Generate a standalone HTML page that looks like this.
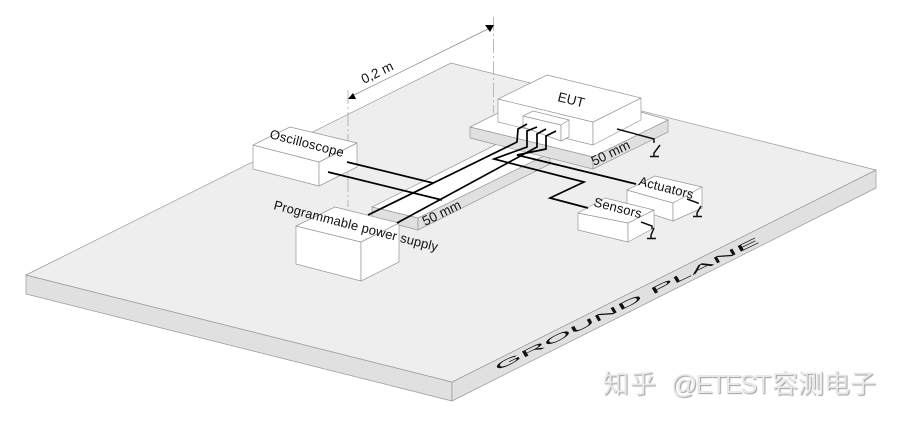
<!DOCTYPE html>
<html><head><meta charset="utf-8">
<style>
html,body{margin:0;padding:0;background:#fff;width:898px;height:421px;overflow:hidden}
#w{position:relative;width:898px;height:421px}
svg{position:absolute;left:0;top:0;filter:blur(.25px)}
.t{font-family:"Liberation Sans",sans-serif;fill:#111}
.b polygon{fill:#fff;stroke:#999;stroke-width:.7;stroke-linejoin:round}
.wire{fill:none;stroke:#000;stroke-width:1.7;stroke-linejoin:miter}
.gnd{fill:none;stroke:#111;stroke-width:1.5}
.wm{position:absolute;font-family:"Liberation Sans","Noto Sans CJK SC",sans-serif;font-size:26px;line-height:30px;color:#e8e8e8;text-shadow:1px 1px 1px #a0a0a0;white-space:nowrap;top:369px}
</style></head><body><div id="w">
<svg width="898" height="421" viewBox="0 0 898 421">
<!-- ground plane -->
<polygon points="26,275 452,382 452,401 26,294" fill="#e0e0e0" stroke="#999" stroke-width=".7"/>
<polygon points="452,382 876,170 876,188 452,401" fill="#e0e0e0" stroke="#999" stroke-width=".7"/>
<polygon points="26,275 451,63 876,170 452,382" fill="#eeeeee" stroke="#999" stroke-width=".7"/>

<!-- dimension -->
<line x1="348" y1="90" x2="348" y2="207" stroke="#aaa" stroke-width=".8" stroke-dasharray="14 3 2 3"/>
<line x1="493.500" y1="17" x2="493.500" y2="113" stroke="#aaa" stroke-width=".8" stroke-dasharray="14 3 2 3"/>
<line x1="352" y1="96" x2="490" y2="28" stroke="#888" stroke-width=".7"/>
<polygon points="485,25 494,25 490,32" fill="#000"/>
<polygon points="348,99 356,99 353,93" fill="#000"/>
<text class="t" font-size="13.500" transform="translate(364,84) rotate(-26)">0,2 m</text>

<!-- long strip -->
<g class="b">
<polygon points="372,207 505,140 560,150 418,218" style="fill:#fff"/>
<polygon points="372,207 418,218 418,230 372,218" style="fill:#e0e0e0"/>
<polygon points="418,218 550,153 550,164 418,230" style="fill:#e0e0e0"/>
</g>

<!-- EUT support -->
<g class="b">
<polygon points="470,127 498,113 641,112 668,120 593,157" style="fill:#fff"/>
<polygon points="470,127 593,157 593,169 470,138" style="fill:#e0e0e0"/>
<polygon points="593,157 668,120 668,132 593,169" style="fill:#e0e0e0"/>
</g>

<!-- EUT -->
<g class="b">
<polygon points="498,99 593,122 593,145 498,122"/>
<polygon points="593,122 641,98 641,120 593,145"/>
<polygon points="498,99 547,75 641,98 593,122"/>
<polygon points="523,116 561,125 561,141 523,127"/>
<polygon points="561,125 569,120 569,137 561,141"/>
<polygon points="523,116 533,111 569,120 561,125"/>
</g>

<!-- Oscilloscope -->
<g class="b">
<polygon points="253,145 319,162 319,186 253,169"/>
<polygon points="319,162 357,143 357,167 319,186"/>
<polygon points="253,145 290,127 357,143 319,162"/>
</g>
<!-- PPS -->
<g class="b">
<polygon points="296,226 361,242 361,281 296,264"/>
<polygon points="361,242 399,223 399,262 361,281"/>
<polygon points="296,226 335,207 399,223 361,242"/>
</g>
<!-- Actuators -->
<g class="b">
<polygon points="627,190 673,203 673,221 627,206"/>
<polygon points="673,203 702,187 702,208 673,221"/>
<polygon points="627,190 655,176 702,187 673,203"/>
</g>
<!-- Sensors -->
<g class="b">
<polygon points="578,213 628,223 628,242 578,230"/>
<polygon points="628,223 654,210 654,228 628,242"/>
<polygon points="578,213 605,198 654,210 628,223"/>
</g>

<!-- wires -->
<polyline class="wire" points="527,124 518,129 517,142 368,215"/>
<polyline class="wire" points="537,127 527,131 527,147 494,159 584,182 550,198 588,208"/>
<polyline class="wire" points="546,129 537,134 537,147 397,223"/>
<polyline class="wire" points="556,131 546,136 546,149 517,155 636,184"/>
<line class="wire" x1="347" y1="162" x2="433" y2="183"/>
<line class="wire" x1="328" y1="172" x2="442" y2="200"/>

<!-- grounds -->
<polyline class="gnd" points="617,129 654,139 654,143"/>
<polyline class="gnd" points="660,145 654,153 654,157"/>
<line class="gnd" x1="650" y1="156.500" x2="659" y2="156.500" stroke-width="2.500"/>
<polyline class="gnd" points="687,199 698,203 698,204"/>
<polyline class="gnd" points="701,206 697,213 697,217"/>
<line class="gnd" x1="693" y1="216.500" x2="702" y2="216.500" stroke-width="2.500"/>
<polyline class="gnd" points="641,222 652,226 652,229"/>
<polyline class="gnd" points="654,228 651,235 651,239"/>
<line class="gnd" x1="647" y1="238.500" x2="656" y2="238.500" stroke-width="2.500"/>

<!-- labels -->
<text class="t" font-size="13.500" transform="translate(557,101) rotate(14)">EUT</text>
<text class="t" font-size="13" transform="translate(269,138) rotate(14.500)" textLength="76">Oscilloscope</text>
<text class="t" font-size="13" transform="translate(273,209) rotate(14.500)" textLength="169">Programmable power supply</text>
<text class="t" font-size="13" transform="translate(638,185) rotate(14.500)" textLength="56">Actuators</text>
<text class="t" font-size="13" transform="translate(593,206) rotate(14.500)" textLength="49">Sensors</text>
<text class="t" font-size="13.500" transform="translate(594,166) rotate(-26)">50 mm</text>
<text class="t" font-size="13.500" transform="translate(425,226) rotate(-26)">50 mm</text>
<text class="t" font-size="10" transform="matrix(3.29,-1.61,0.48,0.83,497,371)">GROUND PLANE</text>
</svg>
<div class="wm" style="left:603px;letter-spacing:1px">知乎</div>
<div class="wm" style="left:671px;letter-spacing:-2px">@ETEST</div>
<div class="wm" style="left:772px">容测电子</div>
</div></body></html>
